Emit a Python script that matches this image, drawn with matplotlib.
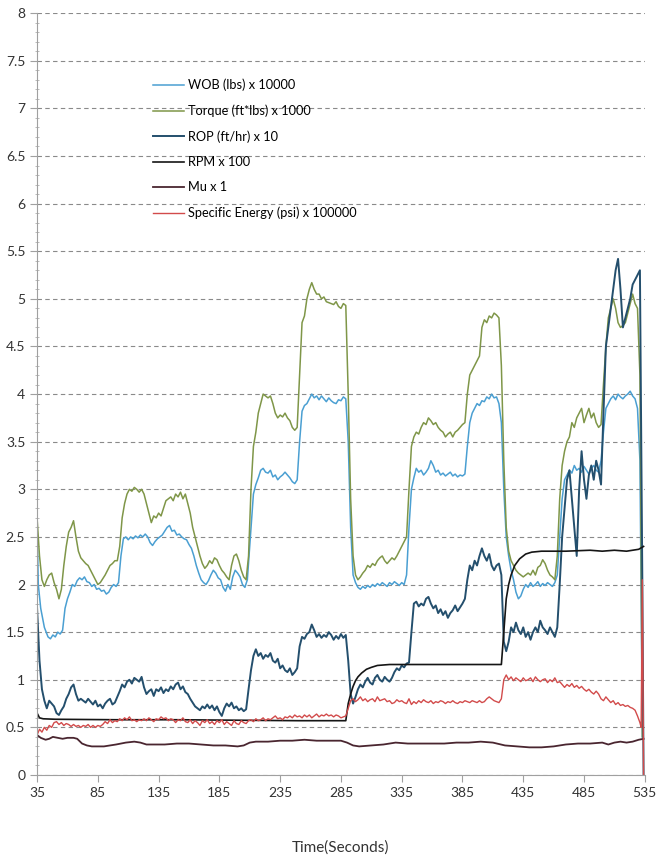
import numpy as np
import matplotlib
matplotlib.use("Agg")
import matplotlib.pyplot as plt
from matplotlib.ticker import MultipleLocator

plt.rcParams['font.family'] = ['Lato', 'DejaVu Sans']

# values, (time in s, scaled value)
wob = [(35, 2.65), (36, 2.0), (38, 1.75), (41, 1.55), (44, 1.45), (46, 1.43), (48, 1.47), (50, 1.45),
       (52, 1.5), (54, 1.48), (56, 1.52), (58, 1.75), (60, 1.85), (62, 1.92), (64, 2.0), (66, 1.98),
       (68, 2.04), (70, 2.07), (72, 2.05), (74, 2.08), (76, 2.03), (78, 2.02), (80, 1.98), (82, 2.0),
       (84, 1.95), (86, 1.96), (88, 1.93), (90, 1.94), (92, 1.9), (94, 1.92), (96, 1.97), (98, 2.0),
       (100, 1.98), (102, 2.02), (104, 2.3), (106, 2.48), (108, 2.5), (110, 2.47), (112, 2.5), (114, 2.48),
       (116, 2.51), (118, 2.49), (120, 2.52), (122, 2.5), (124, 2.53), (126, 2.5), (128, 2.44), (130, 2.41),
       (132, 2.45), (134, 2.48), (136, 2.5), (138, 2.52), (140, 2.56), (142, 2.6), (144, 2.62), (146, 2.56),
       (148, 2.57), (150, 2.52), (152, 2.53), (154, 2.5), (156, 2.48), (158, 2.47), (160, 2.42), (162, 2.38),
       (164, 2.3), (166, 2.2), (168, 2.12), (170, 2.05), (172, 2.02), (174, 2.0), (176, 2.04), (178, 2.1),
       (180, 2.15), (182, 2.12), (184, 2.07), (186, 2.05), (188, 1.97), (190, 1.93), (192, 2.0), (194, 1.95),
       (196, 2.08), (198, 2.15), (200, 2.12), (202, 2.08), (204, 2.0), (206, 1.97), (208, 2.05), (211, 2.6),
       (213, 2.95), (215, 3.05), (217, 3.12), (219, 3.2), (221, 3.22), (223, 3.18), (225, 3.17), (227, 3.2),
       (229, 3.13), (231, 3.15), (233, 3.1), (235, 3.13), (237, 3.15), (239, 3.18), (241, 3.15), (243, 3.12),
       (245, 3.08), (247, 3.06), (249, 3.1), (251, 3.5), (253, 3.82), (255, 3.88), (257, 3.9), (259, 3.95),
       (261, 4.0), (263, 3.96), (265, 3.98), (267, 3.94), (269, 3.98), (271, 3.95), (273, 3.92), (275, 3.96),
       (277, 3.93), (279, 3.91), (281, 3.9), (283, 3.94), (285, 3.93), (287, 3.97), (289, 3.95), (291, 3.5),
       (293, 2.6), (295, 2.1), (297, 2.02), (299, 1.97), (301, 1.95), (303, 1.98), (305, 1.96), (307, 1.99),
       (309, 1.97), (311, 2.0), (313, 1.98), (315, 2.01), (317, 1.99), (319, 2.02), (321, 2.0), (323, 1.98),
       (325, 2.02), (327, 2.0), (329, 2.03), (331, 2.01), (333, 1.99), (335, 2.02), (337, 2.0), (339, 2.1),
       (341, 2.6), (343, 3.0), (345, 3.12), (347, 3.22), (349, 3.18), (351, 3.2), (353, 3.15), (355, 3.18),
       (357, 3.22), (359, 3.3), (361, 3.25), (363, 3.18), (365, 3.2), (367, 3.15), (369, 3.17), (371, 3.14),
       (373, 3.16), (375, 3.18), (377, 3.14), (379, 3.16), (381, 3.13), (383, 3.15), (385, 3.14), (387, 3.16),
       (389, 3.45), (391, 3.7), (393, 3.8), (395, 3.85), (397, 3.9), (399, 3.88), (401, 3.93), (403, 3.92),
       (405, 3.97), (407, 3.95), (409, 4.0), (411, 3.96), (413, 3.97), (415, 3.9), (417, 3.7), (419, 3.0),
       (421, 2.5), (423, 2.3), (425, 2.15), (427, 2.05), (429, 1.92), (431, 1.85), (433, 1.88), (435, 1.95),
       (437, 2.0), (439, 1.97), (441, 2.02), (443, 1.98), (445, 2.0), (447, 2.03), (449, 1.98), (451, 2.01),
       (453, 1.99), (455, 2.02), (457, 2.0), (459, 1.98), (461, 2.02), (463, 2.1), (465, 2.5), (467, 2.9),
       (469, 3.1), (471, 3.15), (473, 3.2), (475, 3.17), (477, 3.25), (479, 3.2), (481, 3.22), (483, 3.18),
       (485, 3.24), (487, 3.2), (489, 3.16), (491, 3.22), (493, 3.25), (495, 3.2), (497, 3.18), (499, 3.3),
       (501, 3.6), (503, 3.85), (505, 3.9), (507, 3.95), (509, 3.98), (511, 3.94), (513, 4.0), (515, 3.97),
       (517, 3.95), (519, 3.98), (521, 4.0), (523, 4.03), (525, 3.98), (527, 3.95), (529, 3.85), (531, 3.3),
       (533, 0.4)]

torque = [(35, 2.7), (37, 2.3), (39, 2.05), (41, 1.98), (43, 2.05), (45, 2.1), (47, 2.12), (49, 2.02),
          (51, 1.95), (53, 1.85), (55, 1.95), (57, 2.2), (59, 2.4), (61, 2.55), (63, 2.6), (65, 2.67),
          (67, 2.5), (69, 2.35), (71, 2.28), (73, 2.25), (75, 2.22), (77, 2.2), (79, 2.15), (81, 2.1),
          (83, 2.05), (85, 2.0), (87, 2.02), (89, 2.06), (91, 2.1), (93, 2.15), (95, 2.2), (97, 2.22),
          (99, 2.25), (101, 2.25), (103, 2.4), (105, 2.7), (107, 2.85), (109, 2.95), (111, 3.0), (113, 2.98),
          (115, 3.02), (117, 3.0), (119, 2.97), (121, 3.0), (123, 2.95), (125, 2.85), (127, 2.75), (129, 2.65),
          (131, 2.72), (133, 2.7), (135, 2.75), (137, 2.72), (139, 2.8), (141, 2.88), (143, 2.9), (145, 2.92),
          (147, 2.88), (149, 2.95), (151, 2.92), (153, 2.97), (155, 2.9), (157, 2.95), (159, 2.85), (161, 2.75),
          (163, 2.6), (165, 2.5), (167, 2.4), (169, 2.3), (171, 2.22), (173, 2.17), (175, 2.2), (177, 2.25),
          (179, 2.22), (181, 2.28), (183, 2.26), (185, 2.2), (187, 2.15), (189, 2.12), (191, 2.08), (193, 2.05),
          (195, 2.2), (197, 2.3), (199, 2.32), (201, 2.25), (203, 2.15), (205, 2.08), (207, 2.05), (209, 2.3),
          (211, 3.0), (213, 3.45), (215, 3.6), (217, 3.8), (219, 3.9), (221, 4.0), (223, 3.98), (225, 3.96),
          (227, 3.98), (229, 3.9), (231, 3.8), (233, 3.75), (235, 3.78), (237, 3.76), (239, 3.8), (241, 3.75),
          (243, 3.72), (245, 3.65), (247, 3.62), (249, 3.65), (251, 4.2), (253, 4.75), (255, 4.82), (257, 5.0),
          (259, 5.1), (261, 5.17), (263, 5.1), (265, 5.05), (267, 5.05), (269, 5.0), (271, 5.02), (273, 4.97),
          (275, 4.96), (277, 4.95), (279, 4.94), (281, 4.97), (283, 4.92), (285, 4.9), (287, 4.95), (289, 4.93),
          (291, 4.0), (293, 2.9), (295, 2.3), (297, 2.1), (299, 2.05), (301, 2.08), (303, 2.12), (305, 2.15),
          (307, 2.2), (309, 2.18), (311, 2.22), (313, 2.2), (315, 2.25), (317, 2.28), (319, 2.3), (321, 2.25),
          (323, 2.22), (325, 2.25), (327, 2.28), (329, 2.26), (331, 2.3), (333, 2.35), (335, 2.4), (337, 2.45),
          (339, 2.5), (341, 3.0), (343, 3.45), (345, 3.55), (347, 3.6), (349, 3.58), (351, 3.65), (353, 3.7),
          (355, 3.68), (357, 3.75), (359, 3.72), (361, 3.68), (363, 3.7), (365, 3.65), (367, 3.62), (369, 3.6),
          (371, 3.55), (373, 3.58), (375, 3.6), (377, 3.55), (379, 3.6), (381, 3.62), (383, 3.65), (385, 3.68),
          (387, 3.7), (389, 4.0), (391, 4.2), (393, 4.25), (395, 4.3), (397, 4.35), (399, 4.4), (401, 4.7),
          (403, 4.78), (405, 4.75), (407, 4.82), (409, 4.8), (411, 4.85), (413, 4.83), (415, 4.8), (417, 4.3),
          (419, 3.3), (421, 2.6), (423, 2.35), (425, 2.25), (427, 2.2), (429, 2.15), (431, 2.12), (433, 2.1),
          (435, 2.08), (437, 2.1), (439, 2.12), (441, 2.1), (443, 2.15), (445, 2.1), (447, 2.18), (449, 2.2),
          (451, 2.26), (453, 2.22), (455, 2.15), (457, 2.1), (459, 2.08), (461, 2.05), (463, 2.3), (465, 2.9),
          (467, 3.25), (469, 3.4), (471, 3.5), (473, 3.55), (475, 3.7), (477, 3.65), (479, 3.75), (481, 3.8),
          (483, 3.85), (485, 3.7), (487, 3.78), (489, 3.85), (491, 3.75), (493, 3.8), (495, 3.7), (497, 3.65),
          (499, 3.68), (501, 4.1), (503, 4.5), (505, 4.8), (507, 4.9), (509, 5.0), (511, 4.9), (513, 4.75),
          (515, 4.7), (517, 4.72), (519, 4.75), (521, 4.85), (523, 4.95), (525, 5.05), (527, 4.95), (529, 4.9),
          (531, 4.2), (533, 0.4)]

rop = [(35, 1.75), (37, 1.2), (39, 0.9), (41, 0.78), (43, 0.7), (45, 0.78), (47, 0.75), (49, 0.72),
       (51, 0.65), (53, 0.63), (55, 0.68), (57, 0.72), (59, 0.8), (61, 0.85), (63, 0.92), (65, 0.95),
       (67, 0.85), (69, 0.78), (71, 0.8), (73, 0.78), (75, 0.76), (77, 0.8), (79, 0.77), (81, 0.74),
       (83, 0.78), (85, 0.72), (87, 0.74), (89, 0.7), (91, 0.75), (93, 0.78), (95, 0.8), (97, 0.74),
       (99, 0.76), (101, 0.82), (103, 0.88), (105, 0.95), (107, 0.92), (109, 0.98), (111, 1.0), (113, 0.96),
       (115, 1.02), (117, 1.0), (119, 0.98), (121, 1.03), (123, 0.92), (125, 0.85), (127, 0.88), (129, 0.9),
       (131, 0.83), (133, 0.9), (135, 0.88), (137, 0.92), (139, 0.86), (141, 0.9), (143, 0.88), (145, 0.93),
       (147, 0.9), (149, 0.95), (151, 0.97), (153, 0.9), (155, 0.93), (157, 0.87), (159, 0.85), (161, 0.8),
       (163, 0.76), (165, 0.72), (167, 0.7), (169, 0.68), (171, 0.72), (173, 0.7), (175, 0.74), (177, 0.7),
       (179, 0.73), (181, 0.68), (183, 0.72), (185, 0.66), (187, 0.62), (189, 0.7), (191, 0.75), (193, 0.72),
       (195, 0.76), (197, 0.7), (199, 0.72), (201, 0.68), (203, 0.7), (205, 0.67), (207, 0.69), (209, 0.9),
       (211, 1.1), (213, 1.25), (215, 1.32), (217, 1.25), (219, 1.28), (221, 1.22), (223, 1.26), (225, 1.24),
       (227, 1.28), (229, 1.2), (231, 1.18), (233, 1.22), (235, 1.12), (237, 1.15), (239, 1.1), (241, 1.08),
       (243, 1.12), (245, 1.05), (247, 1.08), (249, 1.12), (251, 1.35), (253, 1.45), (255, 1.43), (257, 1.48),
       (259, 1.5), (261, 1.58), (263, 1.52), (265, 1.45), (267, 1.48), (269, 1.44), (271, 1.47), (273, 1.45),
       (275, 1.5), (277, 1.47), (279, 1.42), (281, 1.46), (283, 1.43), (285, 1.48), (287, 1.44), (289, 1.47),
       (291, 1.2), (293, 0.85), (295, 0.75), (297, 0.82), (299, 0.9), (301, 0.95), (303, 0.92), (305, 0.98),
       (307, 1.02), (309, 0.97), (311, 0.95), (313, 1.02), (315, 1.05), (317, 1.0), (319, 0.98), (321, 1.03),
       (323, 1.0), (325, 0.98), (327, 1.02), (329, 1.08), (331, 1.12), (333, 1.1), (335, 1.15), (337, 1.13),
       (339, 1.17), (341, 1.18), (343, 1.5), (345, 1.8), (347, 1.82), (349, 1.77), (351, 1.8), (353, 1.78),
       (355, 1.85), (357, 1.87), (359, 1.8), (361, 1.75), (363, 1.78), (365, 1.7), (367, 1.74), (369, 1.68),
       (371, 1.72), (373, 1.65), (375, 1.7), (377, 1.73), (379, 1.78), (381, 1.72), (383, 1.76), (385, 1.8),
       (387, 1.85), (389, 2.05), (391, 2.2), (393, 2.15), (395, 2.25), (397, 2.2), (399, 2.3), (401, 2.38),
       (403, 2.3), (405, 2.25), (407, 2.32), (409, 2.2), (411, 2.15), (413, 2.2), (415, 2.22), (417, 2.1),
       (419, 1.4), (421, 1.3), (423, 1.4), (425, 1.55), (427, 1.5), (429, 1.6), (431, 1.52), (433, 1.48),
       (435, 1.55), (437, 1.45), (439, 1.5), (441, 1.42), (443, 1.5), (445, 1.55), (447, 1.5), (449, 1.62),
       (451, 1.55), (453, 1.52), (455, 1.48), (457, 1.55), (459, 1.5), (461, 1.45), (463, 1.55), (465, 2.0),
       (467, 2.5), (469, 2.8), (471, 3.1), (473, 3.2), (475, 2.9), (477, 2.6), (479, 2.3), (481, 3.0),
       (483, 3.4), (485, 3.1), (487, 2.9), (489, 3.15), (491, 3.25), (493, 3.1), (495, 3.3), (497, 3.2),
       (499, 3.05), (501, 3.8), (503, 4.5), (505, 4.7), (507, 4.9), (509, 5.1), (511, 5.3), (513, 5.42),
       (515, 5.1), (517, 4.7), (519, 4.8), (521, 4.9), (523, 5.0), (525, 5.15), (527, 5.2), (529, 5.25),
       (531, 5.3), (533, 2.0), (534, 0.0)]

rpm = [(35, 0.65), (37, 0.6), (40, 0.59), (50, 0.585), (100, 0.58), (150, 0.58), (200, 0.575),
       (250, 0.57), (289, 0.57), (291, 0.75), (293, 0.85), (295, 0.93), (297, 0.99), (299, 1.03),
       (302, 1.07), (306, 1.11), (310, 1.13), (315, 1.15), (325, 1.16), (350, 1.16), (380, 1.16),
       (410, 1.16), (417, 1.16), (419, 1.5), (421, 1.85), (423, 2.0), (425, 2.1), (428, 2.2),
       (432, 2.27), (437, 2.32), (442, 2.34), (450, 2.35), (470, 2.35), (490, 2.36), (500, 2.35),
       (510, 2.36), (520, 2.35), (530, 2.37), (534, 2.4)]

mu = [(35, 0.42), (38, 0.39), (42, 0.37), (45, 0.38), (48, 0.4), (52, 0.39), (56, 0.38), (60, 0.39),
      (65, 0.39), (68, 0.38), (72, 0.33), (76, 0.31), (80, 0.3), (90, 0.3), (95, 0.31), (100, 0.32),
      (108, 0.34), (115, 0.35), (120, 0.34), (125, 0.32), (130, 0.32), (140, 0.32), (150, 0.33),
      (160, 0.33), (170, 0.32), (180, 0.31), (190, 0.31), (200, 0.3), (205, 0.31), (210, 0.34),
      (215, 0.35), (225, 0.35), (235, 0.36), (245, 0.36), (255, 0.37), (265, 0.36), (275, 0.36),
      (285, 0.36), (290, 0.34), (295, 0.31), (300, 0.3), (310, 0.31), (320, 0.32), (330, 0.34),
      (340, 0.33), (350, 0.33), (360, 0.33), (370, 0.33), (380, 0.34), (390, 0.34), (400, 0.35),
      (410, 0.34), (420, 0.31), (430, 0.3), (440, 0.29), (450, 0.29), (460, 0.3), (470, 0.32),
      (480, 0.33), (490, 0.33), (500, 0.34), (505, 0.32), (510, 0.34), (515, 0.35), (520, 0.34),
      (525, 0.35), (530, 0.37), (534, 0.38)]

spec_energy = [(35, 0.42), (37, 0.48), (39, 0.45), (41, 0.5), (43, 0.47), (45, 0.52), (47, 0.5), (49, 0.55),
               (51, 0.56), (53, 0.53), (55, 0.55), (57, 0.52), (59, 0.54), (61, 0.53), (63, 0.51), (65, 0.53),
               (67, 0.51), (69, 0.52), (71, 0.5), (73, 0.52), (75, 0.51), (77, 0.53), (79, 0.5), (81, 0.52),
               (83, 0.5), (85, 0.52), (87, 0.51), (89, 0.53), (91, 0.56), (93, 0.54), (95, 0.58), (97, 0.55),
               (99, 0.57), (101, 0.56), (103, 0.59), (105, 0.57), (107, 0.6), (109, 0.58), (111, 0.61), (113, 0.57),
               (115, 0.58), (117, 0.56), (119, 0.58), (121, 0.57), (123, 0.59), (125, 0.57), (127, 0.6), (129, 0.58),
               (131, 0.56), (133, 0.59), (135, 0.58), (137, 0.61), (139, 0.59), (141, 0.6), (143, 0.57), (145, 0.59),
               (147, 0.58), (149, 0.55), (151, 0.58), (153, 0.57), (155, 0.6), (157, 0.56), (159, 0.55), (161, 0.58),
               (163, 0.54), (165, 0.57), (167, 0.55), (169, 0.52), (171, 0.57), (173, 0.55), (175, 0.58), (177, 0.54),
               (179, 0.56), (181, 0.53), (183, 0.57), (185, 0.55), (187, 0.58), (189, 0.53), (191, 0.56), (193, 0.54),
               (195, 0.52), (197, 0.57), (199, 0.54), (201, 0.53), (203, 0.57), (205, 0.55), (207, 0.54), (209, 0.57),
               (211, 0.58), (213, 0.56), (215, 0.59), (217, 0.57), (219, 0.58), (221, 0.6), (223, 0.57), (225, 0.59),
               (227, 0.58), (229, 0.6), (231, 0.62), (233, 0.59), (235, 0.6), (237, 0.58), (239, 0.61), (241, 0.6),
               (243, 0.62), (245, 0.6), (247, 0.63), (249, 0.61), (251, 0.62), (253, 0.6), (255, 0.63), (257, 0.61),
               (259, 0.63), (261, 0.6), (263, 0.62), (265, 0.64), (267, 0.61), (269, 0.63), (271, 0.62), (273, 0.64),
               (275, 0.62), (277, 0.63), (279, 0.61), (281, 0.63), (283, 0.62), (285, 0.6), (287, 0.61), (289, 0.62),
               (291, 0.7), (293, 0.78), (295, 0.8), (297, 0.77), (299, 0.79), (301, 0.82), (303, 0.78), (305, 0.8),
               (307, 0.77), (309, 0.79), (311, 0.8), (313, 0.77), (315, 0.82), (317, 0.78), (319, 0.79), (321, 0.8),
               (323, 0.77), (325, 0.78), (327, 0.75), (329, 0.76), (331, 0.79), (333, 0.77), (335, 0.78), (337, 0.76),
               (339, 0.75), (341, 0.8), (343, 0.74), (345, 0.77), (347, 0.75), (349, 0.78), (351, 0.76), (353, 0.79),
               (355, 0.77), (357, 0.76), (359, 0.78), (361, 0.75), (363, 0.77), (365, 0.76), (367, 0.78), (369, 0.77),
               (371, 0.75), (373, 0.77), (375, 0.76), (377, 0.78), (379, 0.76), (381, 0.75), (383, 0.77), (385, 0.76),
               (387, 0.78), (389, 0.77), (391, 0.76), (393, 0.78), (395, 0.77), (397, 0.76), (399, 0.78), (401, 0.76),
               (403, 0.77), (405, 0.8), (407, 0.82), (409, 0.8), (411, 0.78), (413, 0.77), (415, 0.76), (417, 0.8),
               (419, 1.0), (421, 1.05), (423, 1.0), (425, 1.03), (427, 0.99), (429, 1.02), (431, 1.0), (433, 0.98),
               (435, 1.02), (437, 0.99), (439, 1.0), (441, 1.02), (443, 0.98), (445, 1.03), (447, 1.0), (449, 0.98),
               (451, 1.0), (453, 1.01), (455, 0.97), (457, 1.0), (459, 0.98), (461, 1.02), (463, 0.97), (465, 0.98),
               (467, 0.95), (469, 0.92), (471, 0.95), (473, 0.93), (475, 0.96), (477, 0.92), (479, 0.94), (481, 0.91),
               (483, 0.93), (485, 0.9), (487, 0.88), (489, 0.9), (491, 0.87), (493, 0.85), (495, 0.88), (497, 0.85),
               (499, 0.8), (501, 0.78), (503, 0.82), (505, 0.79), (507, 0.76), (509, 0.78), (511, 0.74), (513, 0.76),
               (515, 0.73), (517, 0.74), (519, 0.72), (521, 0.73), (523, 0.71), (525, 0.7), (527, 0.68), (529, 0.62),
               (531, 0.55), (532, 0.5), (533, 2.05), (534, 0.0)]

series = [
    ("WOB (lbs) x 10000", wob, "#4a9fd2", 1.1),
    ("Torque (ft*lbs) x 1000", torque, "#7f9648", 1.1),
    ("ROP (ft/hr) x 10", rop, "#244f6d", 1.4),
    ("RPM x 100", rpm, "#151515", 1.2),
    ("Mu x 1", mu, "#4a2630", 1.3),
    ("Specific Energy (psi) x 100000", spec_energy, "#d24b4b", 1.0),
]

fig = plt.figure(figsize=(6.62, 8.55), dpi=100)
ax = fig.add_axes([0.056, 0.0936, 0.918, 0.891])

for label, data, color, lw in series:
    t, v = zip(*data)
    ax.plot(t, v, color=color, lw=lw, label=label)

ax.set_xlim(35, 535)
ax.set_ylim(0, 8)
ax.set_xticks(np.arange(35, 536, 50))
ax.yaxis.set_major_locator(MultipleLocator(0.5))
ax.yaxis.set_minor_locator(MultipleLocator(0.1))
ax.yaxis.set_major_formatter(plt.FuncFormatter(lambda v, p: f"{v:g}"))
ax.grid(axis='y', ls=(0, (4, 3)), color='#8a8a8a', lw=0.8)
ax.set_axisbelow(True)

for s in ['top', 'right']:
    ax.spines[s].set_visible(False)
for s in ['left', 'bottom']:
    ax.spines[s].set_color('#a0a0a0')

ax.tick_params(axis='both', labelsize=10, colors='#333333')
ax.tick_params(axis='both', which='major', color='#a0a0a0', length=5)
ax.tick_params(axis='y', which='minor', color='#b0b0b0', length=3, direction='inout')
ax.set_xlabel('Time(Seconds)', fontsize=11, labelpad=30, color='#333333')

ax.legend(loc='upper left', bbox_to_anchor=(0.19, 0.914), frameon=False, fontsize=9.2,
          handlelength=2.5, handletextpad=0.3, labelspacing=1.04, borderpad=0, borderaxespad=0)

fig.savefig('out.png', dpi=100)
